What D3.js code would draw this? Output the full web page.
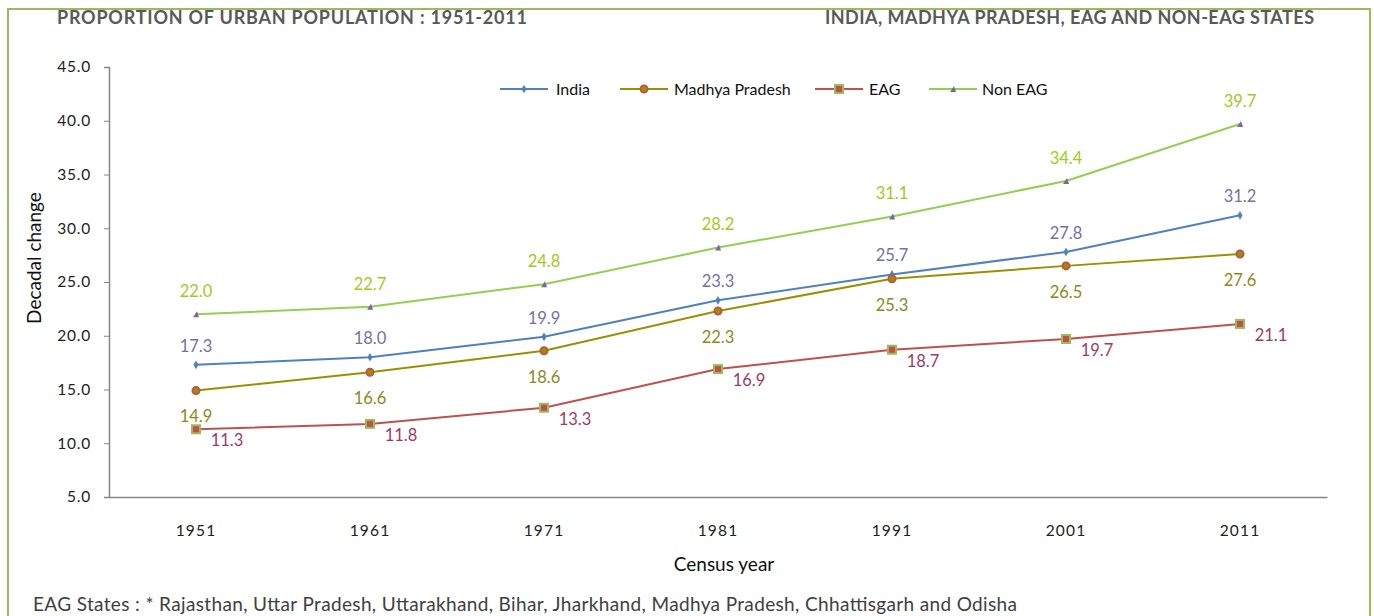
<!DOCTYPE html>
<html><head><meta charset="utf-8">
<script src="https://cdn.jsdelivr.net/npm/d3@7"></script>
<style>body{margin:0;background:#fff}svg{display:block}</style>
</head><body>
<script>
const years = ["1951","1961","1971","1981","1991","2001","2011"];
const india = [17.3, 18.0, 19.9, 23.3, 25.7, 27.8, 31.2];
const madhyaPradesh = [14.9, 16.6, 18.6, 22.3, 25.3, 26.5, 27.6];
const eag = [11.3, 11.8, 13.3, 16.9, 18.7, 19.7, 21.1];
const nonEag = [22.0, 22.7, 24.8, 28.2, 31.1, 34.4, 39.7];
const yTicks = [5, 10, 15, 20, 25, 30, 35, 40, 45];
const seriesNames = ["India", "Madhya Pradesh", "EAG", "Non EAG"];

const W = 1374, H = 616;
const svg = d3.select("body").append("svg").attr("width", W).attr("height", H);
const FONT = "Lato, 'Open Sans', sans-serif";

svg.append("rect").attr("x", 8).attr("y", 9).attr("width", 1362).attr("height", 620)
  .attr("fill", "none").attr("stroke", "#9BBB59").attr("stroke-width", 2);

svg.append("text").attr("x", 57).attr("y", 24).attr("font-family", FONT).attr("font-weight", 700)
  .attr("font-size", 18).attr("fill", "#595959").attr("textLength", 470)
  .text("PROPORTION OF URBAN POPULATION : 1951-2011");
svg.append("text").attr("x", 825).attr("y", 24).attr("font-family", FONT).attr("font-weight", 700)
  .attr("font-size", 18).attr("fill", "#595959").attr("textLength", 489)
  .text("INDIA, MADHYA PRADESH, EAG AND NON-EAG STATES");

const x = d3.scaleBand().domain(years).range([109, 1327]);
const y = d3.scaleLinear().domain([5, 45]).range([497, 67]);

const yAxis = svg.append("g").attr("transform", "translate(109,0)")
  .call(d3.axisLeft(y).tickValues(yTicks).tickFormat(d3.format(".1f")).tickSizeOuter(0).tickSize(5).tickPadding(13));
yAxis.select(".domain").attr("stroke", "#868686").attr("stroke-width", 1.5);
yAxis.selectAll(".tick line").attr("stroke", "#868686");
yAxis.selectAll("text").attr("font-family", FONT).attr("font-size", 15.5).attr("letter-spacing", 0.8).attr("fill", "#222");

const xAxis = svg.append("g").attr("transform", "translate(0,497)")
  .call(d3.axisBottom(x).tickSize(0).tickSizeOuter(0).tickPadding(28));
xAxis.select(".domain").attr("stroke", "#868686").attr("stroke-width", 1.5);
xAxis.selectAll("text").attr("font-family", FONT).attr("font-size", 15.5).attr("letter-spacing", 1.2).attr("fill", "#222");

svg.append("text").attr("transform", "translate(41,258) rotate(-90)").attr("text-anchor", "middle")
  .attr("font-family", FONT).attr("font-size", 19).attr("fill", "#111").text("Decadal change");
svg.append("text").attr("x", 724).attr("y", 571).attr("text-anchor", "middle")
  .attr("font-family", FONT).attr("font-size", 19).attr("fill", "#111").text("Census year");
svg.append("text").attr("x", 33).attr("y", 611)
  .attr("font-family", FONT).attr("font-size", 19).attr("fill", "#404040").attr("textLength", 984)
  .text("EAG States : * Rajasthan, Uttar Pradesh, Uttarakhand, Bihar, Jharkhand, Madhya Pradesh, Chhattisgarh and Odisha");

const series = [
  {name: seriesNames[0], values: india, line: "#4F81BD", label: "#7570A8", marker: "diamond", dx: 0, dy: -19},
  {name: seriesNames[1], values: madhyaPradesh, line: "#9A9000", label: "#8A8A1C", marker: "circle", dx: 0, dy: 26},
  {name: seriesNames[2], values: eag, line: "#C0504D", label: "#A03A64", marker: "square", dx: 31, dy: 11},
  {name: seriesNames[3], values: nonEag, line: "#92D050", label: "#9FCB1A", marker: "triangle", dx: 0, dy: -23}
];

const cx = d => x(d) + x.bandwidth() / 2;
const line = d3.line().x((d, i) => cx(years[i])).y(d => y(d));

function drawMarker(g, type, px, py) {
  if (type === "diamond") {
    g.append("path").attr("d", d3.symbol(d3.symbolDiamond, 22)()).attr("transform", `translate(${px},${py})`).attr("fill", "#4F81BD");
  } else if (type === "circle") {
    g.append("circle").attr("cx", px).attr("cy", py).attr("r", 3.6).attr("fill", "#9A9000").attr("stroke", "#C0504D").attr("stroke-width", 1.8);
  } else if (type === "square") {
    g.append("rect").attr("x", px - 4).attr("y", py - 4).attr("width", 8).attr("height", 8).attr("fill", "#C0504D").attr("stroke", "#9BBB59").attr("stroke-width", 2);
  } else {
    g.append("path").attr("d", `M${px-3},${py+3}L${px+3},${py+3}L${px+1},${py-3}Z`).attr("fill", "#8064A2");
  }
}

series.forEach(s => {
  const g = svg.append("g");
  g.append("path").datum(s.values).attr("d", line).attr("fill", "none").attr("stroke", s.line).attr("stroke-width", 2);
  s.values.forEach((v, i) => drawMarker(g, s.marker, cx(years[i]), y(v)));
  g.selectAll("text.lbl").data(s.values).enter().append("text")
    .attr("x", (d, i) => cx(years[i]) + s.dx).attr("y", d => y(d) + s.dy)
    .attr("dy", "0.35em").attr("text-anchor", "middle")
    .attr("font-family", FONT).attr("font-size", 16.5).attr("fill", s.label)
    .text(d => d.toFixed(1));
});

// Legend
const legendPos = [[500, 556], [620, 674], [815, 869], [929, 982]];
series.forEach((s, i) => {
  const [lx, tx] = legendPos[i];
  const g = svg.append("g");
  g.append("line").attr("x1", lx).attr("x2", lx + 48).attr("y1", 89).attr("y2", 89).attr("stroke", s.line).attr("stroke-width", 2);
  drawMarker(g, s.marker, lx + 24, 89);
  g.append("text").attr("x", tx).attr("y", 89).attr("dy", "0.35em").attr("font-family", FONT)
    .attr("font-size", 16).attr("fill", "#111").text(s.name);
});
</script>
</body></html>
